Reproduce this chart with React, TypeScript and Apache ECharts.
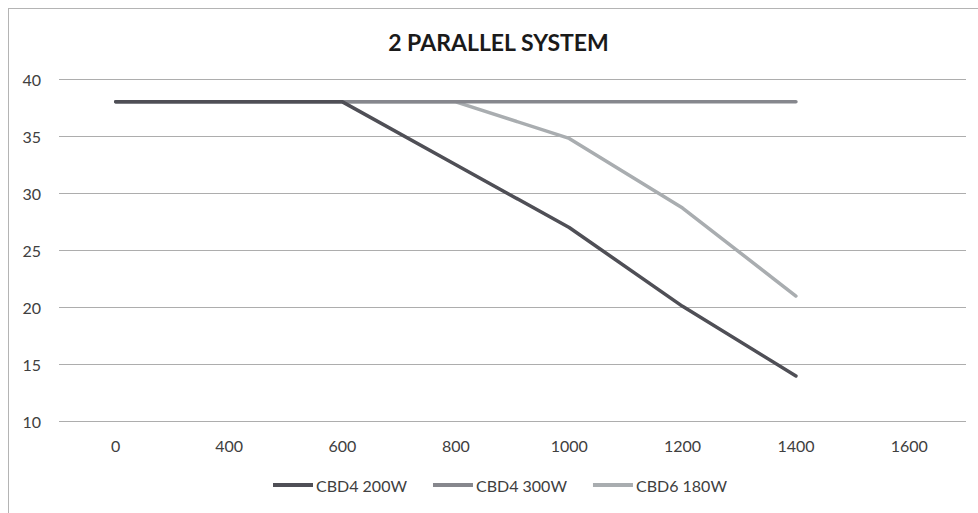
import React, { useEffect, useRef } from "react";
import * as echarts from "echarts";

const categories = ["0", "400", "600", "800", "1000", "1200", "1400", "1600"];
const seriesNames = ["CBD4 200W", "CBD4 300W", "CBD6 180W"];
const cbd4_200w = [38, 38, 38, 32.5, 27, 20.1, 14.0];
const cbd4_300w = [38, 38, 38, 38, 38, 38, 38];
const cbd6_180w = [38, 38, 38, 38, 34.8, 28.7, 21.0];
const yTicks = { min: 10, max: 40, interval: 5 };
const title = "2 PARALLEL SYSTEM";

const FONT = "Lato, 'Liberation Sans', sans-serif";

export default function App() {
  const ref = useRef<HTMLDivElement>(null);
  useEffect(() => {
    if (!ref.current) return;
    const chart = echarts.init(ref.current, undefined, { renderer: "svg" });
    const colors = ["#4f4f56", "#86878d", "#a9adb0"];
    const datas = [cbd4_200w, cbd4_300w, cbd6_180w];
    const zs = [4, 3, 2];
    chart.setOption({
      animation: false,
      graphic: [
        {
          type: "text",
          x: 489.5,
          y: 33,
          style: {
            text: title,
            fill: "#1a1a1a",
            font: `bold 23px ${FONT}`,
            textAlign: "center",
            textVerticalAlign: "middle",
          },
        },
      ],
      legend: {
        left: 264,
        top: 468,
        padding: 0,
        icon: "rect",
        itemWidth: 40,
        itemHeight: 4,
        itemGap: 26,
        textStyle: { fontFamily: FONT, fontSize: 16, color: "#404040", padding: [0, 0, 0, -2] },
        data: seriesNames,
      },
      grid: { left: 50, right: 12, top: 70, bottom: 91.3, containLabel: false },
      xAxis: {
        type: "category",
        data: categories,
        boundaryGap: true,
        axisLine: { show: false },
        axisTick: { show: false },
        axisLabel: { fontFamily: FONT, fontSize: 16, color: "#404040", margin: 16 },
      },
      yAxis: {
        type: "value",
        min: yTicks.min,
        max: yTicks.max,
        interval: yTicks.interval,
        axisLine: { show: false },
        axisTick: { show: false },
        axisLabel: { fontFamily: FONT, fontSize: 16, color: "#404040", margin: 18 },
        splitLine: { lineStyle: { color: "#adadad", width: 1 } },
      },
      series: seriesNames.map((name, i) => ({
        name,
        type: "line",
        data: datas[i],
        z: zs[i],
        symbol: "none",
        showSymbol: false,
        color: colors[i],
        lineStyle: { color: colors[i], width: 3.5, cap: "round", join: "round" },
        itemStyle: { color: colors[i] },
      })),
    });
    return () => chart.dispose();
  }, []);
  return (
    <div
      style={{
        position: "fixed",
        left: 8,
        top: 8,
        width: 970,
        height: 505,
        overflow: "hidden",
        boxSizing: "border-box",
        borderTop: "1px solid #b4b4b4",
        borderLeft: "1px solid #b4b4b4",
        background: "#fff",
      }}
    >
      <div ref={ref} style={{ width: 969, height: 504 }} />
    </div>
  );
}
